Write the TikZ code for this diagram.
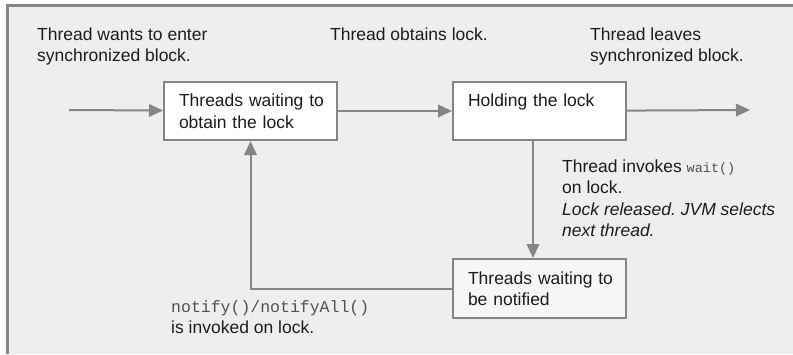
\documentclass[tikz,border=0pt]{standalone}
\usepackage{fontspec}
\setmainfont{Liberation Sans}
\setmonofont{Liberation Mono}
\usepackage{tikz}
\usetikzlibrary{arrows.meta,positioning}
\frenchspacing

\definecolor{linegray}{HTML}{858585}
\definecolor{bggray}{HTML}{EEEEEE}
\definecolor{txtgray}{HTML}{1C1C1C}
\definecolor{codegray}{HTML}{505050}
\definecolor{notifyfill}{HTML}{F6F6F6}

\newcommand{\bigtxt}{\fontsize{17.5}{21.5}\selectfont}
\newcommand{\codesm}[1]{{\color{codegray}\fontsize{13.5}{21.5}\selectfont\ttfamily #1}}
\newcommand{\codebig}[1]{{\color{codegray}\fontsize{16.5}{21.5}\selectfont\ttfamily #1}}

\begin{document}
\begin{tikzpicture}[x=1pt,y=-1pt,>={Triangle[length=14pt,width=12.5pt]}]%
            \tikzstyle{statebox}=[draw=linegray,line width=2pt,shape=rectangle,anchor=north west,
                text width=143pt,inner xsep=15pt,inner ysep=0pt,align=left,
                minimum height=58pt,font=\bigtxt,text=txtgray] %%
            \tikzstyle{note}=[anchor=north west,inner sep=0pt,align=left,font=\bigtxt,text=txtgray] %%
            \tikzstyle{flow}=[draw=linegray,line width=2pt,->] %%
            \useasboundingbox (0,0) rectangle (793,354);
            \fill[bggray] (7,5) rectangle (793,354);
            \draw[linegray,line width=3pt] (7,354) -- (7,5) -- (793,5);
            % the three states
            \node[statebox,fill=white] (lockq) at (163,81) {\mbox{Threads waiting to}\\obtain the lock}; %%
            \node[statebox,fill=white] (hold) at (452,81) {Holding the lock\\\mbox{}}; %%
            \node[statebox,fill=notifyfill,minimum height=59pt] (notif) at (452,258) {\mbox{Threads waiting to}\\be notified}; %%
            \coordinate (entry) at (69,110);
            \coordinate (exit) at (750,110);
            % texts
            \node[note] (enter) at (37,27.5) {Thread wants to enter\\synchronized block.}; %%
            \node[note] (obtain) at (330,27.5) {Thread obtains lock.}; %%
            \node[note] (leave) at (590,27.5) {Thread leaves\\synchronized block.}; %%
            \node[note] (invoke) at (562,159.5) {Thread invokes \codesm{wait()}\\on lock.\\\textit{Lock released. JVM selects}\\\textit{next thread.}}; %%
            \node[note] (notifytxt) at (171,300) {\codebig{notify()/notifyAll()}\\is invoked on lock.}; %%
            % connectors
            \draw[flow] (entry)--(lockq); %%
            \draw[flow] (lockq)--(hold); %%
            \draw[flow] (hold)--(exit); %%
            \draw[flow] ([xshift=-6.5pt]hold.south)--([xshift=-6.5pt]notif.north); %%
            \draw[flow] (notif.west) -| (lockq.south); %%
        \end{tikzpicture}
\end{document}
